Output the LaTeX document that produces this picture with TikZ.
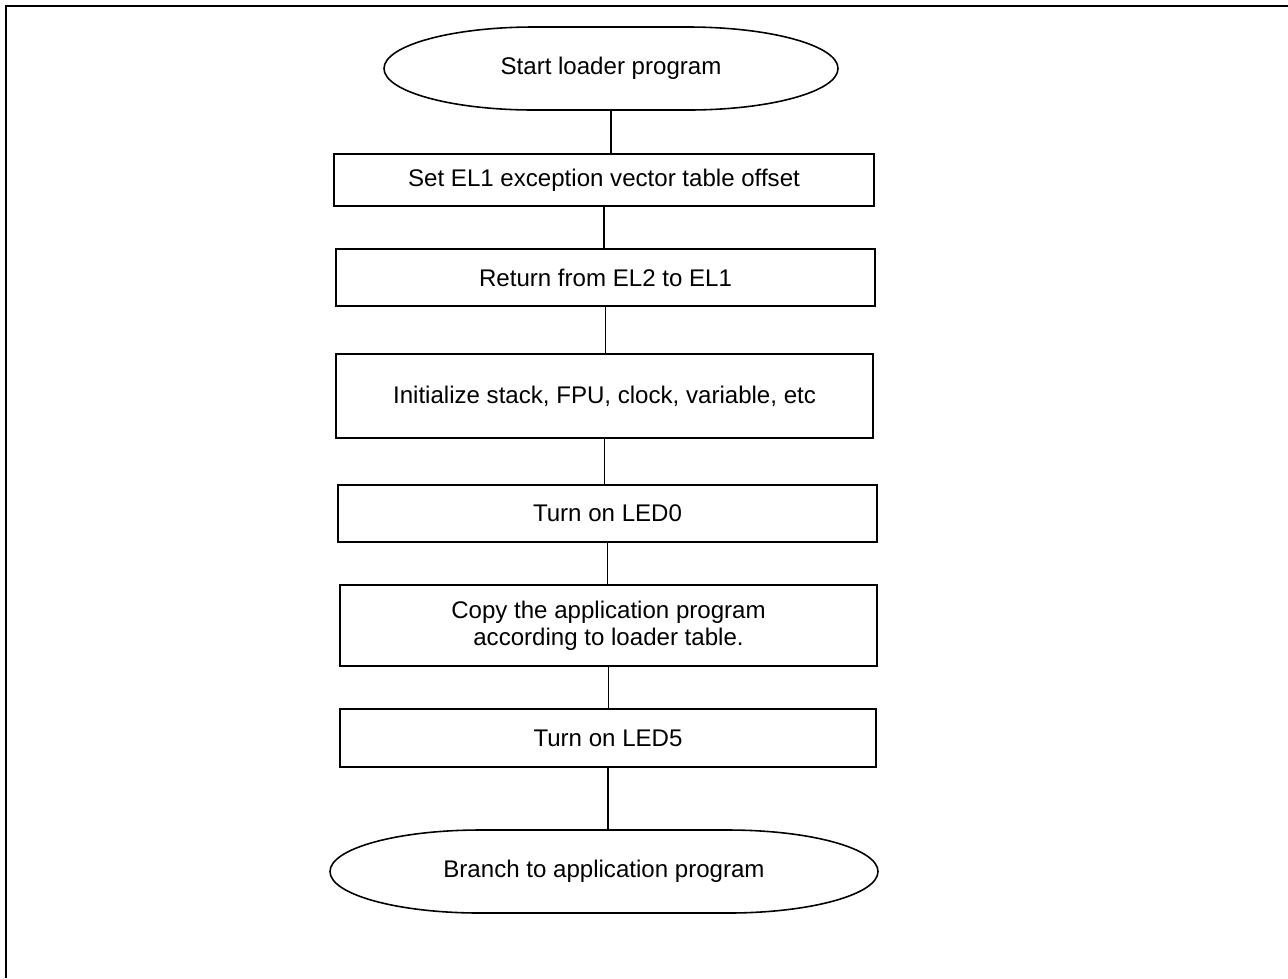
\documentclass[tikz,border=0pt]{standalone}
\usepackage{fontspec}
\setmainfont{Liberation Sans}
\usetikzlibrary{calc}
\tikzset{
  every picture/.style={line width=0.9pt},
  box/.style={draw=black, align=center, inner sep=0pt},
  terminal/.style={align=center, inner sep=0pt, outer sep=0pt, minimum height=1.66cm},
  link/.style={draw=black, line width=0.7pt},
  frame/.style={draw=black, line width=1.4pt},
}
% outline of a terminal node: flat top and bottom, half-ellipse ends
\newcommand{\capline}[1]{%
  \draw ($(#1.north west)+(3,0)$) -- ($(#1.north east)+(-3,0)$)
    arc[start angle=90, end angle=-90, x radius=3, y radius=0.83]
    -- ($(#1.south west)+(3,0)$)
    arc[start angle=270, end angle=90, x radius=3, y radius=0.83] -- cycle;}

\begin{document}
\begin{tikzpicture}[
    every node/.append style={font=\fontsize{13.7pt}{15.4pt}\selectfont},
  ]
  \useasboundingbox (0,0) rectangle (25.76,-19.56);
  \draw[frame] (0.12,-19.56) -- (0.12,-0.12) -- (25.76,-0.12);

  % flow
  \node[terminal, minimum width=9.08cm]  (start) at (12.22,-1.37)  {Start loader program};
  \node[box, minimum width=10.8cm, minimum height=1.04cm]  (vec)  at (12.08,-3.60)  {Set EL1 exception vector table offset};
  \node[box, minimum width=10.78cm, minimum height=1.14cm] (ret)  at (12.11,-5.55)  {Return from EL2 to EL1};
  \node[box, minimum width=10.74cm, minimum height=1.68cm] (init) at (12.09,-7.92)  {Initialize stack, FPU, clock, variable, etc};
  \node[box, minimum width=10.78cm, minimum height=1.14cm] (ledz) at (12.15,-10.27) {Turn on LED0};
  \node[box, minimum width=10.74cm, minimum height=1.62cm] (copy) at (12.17,-12.51) {Copy the application program\\according to loader table.};
  \node[box, minimum width=10.72cm, minimum height=1.16cm] (ledf) at (12.16,-14.76) {Turn on LED5};
  \node[terminal, minimum width=10.96cm] (stop) at (12.08,-17.43) {Branch to application program};
  \capline{start}
  \capline{stop}

  \foreach \a/\b in {start/vec, vec/ret, ret/init, init/ledz, ledz/copy, copy/ledf, ledf/stop}
    \draw[link] (\a.south) -- (\a.south |- \b.north);
\end{tikzpicture}
\end{document}
